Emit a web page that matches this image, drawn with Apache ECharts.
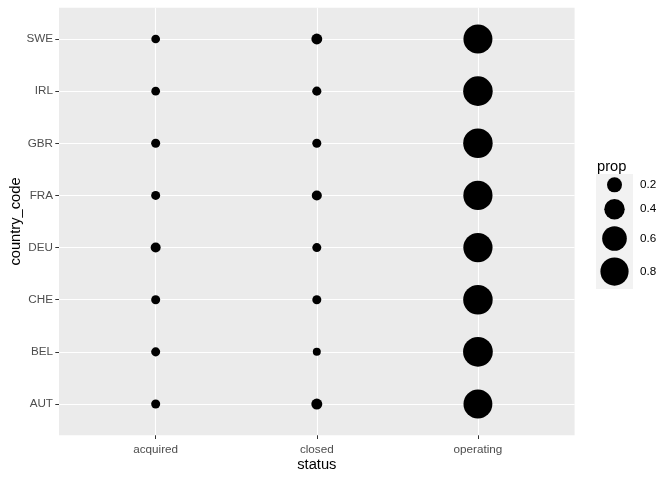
<!DOCTYPE html>
<html>
<head>
<meta charset="utf-8">
<script src="https://cdn.jsdelivr.net/npm/echarts@6/dist/echarts.min.js"></script>
<style>html,body{margin:0;padding:0;background:#fff}#c{width:672px;height:480px}</style>
</head>
<body>
<div id="c"></div>
<script>
const countries = ['AUT','BEL','CHE','DEU','FRA','GBR','IRL','SWE'];
const statuses = ['acquired','closed','operating'];
const acquired  = [0.060, 0.060, 0.060, 0.077, 0.060, 0.060, 0.055, 0.055];
const closed    = [0.097, 0.044, 0.060, 0.060, 0.078, 0.060, 0.062, 0.095];
const operating = [0.843, 0.896, 0.880, 0.863, 0.862, 0.880, 0.883, 0.850];
const legendBreaks = [0.2, 0.4, 0.6, 0.8];

const FONT = '"Liberation Sans", Arial, sans-serif';
const sizeOf = p => 29.5 * Math.sqrt(p) + 1.8;

const statusValues = [acquired, closed, operating];
const points = [];
statusValues.forEach((arr, si) => {
  arr.forEach((v, ci) => points.push([si, ci, v]));
});

// legend key layout (key height grows with symbol size, as in ggplot)
const keyH = legendBreaks.map(b => sizeOf(b) + 6.7);
let acc = 0;
const keyCenters = keyH.map(h => { const c = acc + h / 2; acc += h; return c; });
const keyTotal = acc;
const legendData = legendBreaks.map((b, i) => ({
  value: [0.5, keyCenters[i], b],
  label: { distance: 25.5 - sizeOf(b) / 2 }
}));

const chart = echarts.init(document.getElementById('c'));
chart.setOption({
  animation: false,
  textStyle: { fontFamily: FONT },
  title: {
    text: 'prop', left: 592, top: 154,
    textStyle: { fontFamily: FONT, fontSize: 14.7, fontWeight: 'normal', color: '#000' }
  },
  grid: [
    { left: 59, right: 97.4, top: 7.7, bottom: 44.7, show: true, backgroundColor: '#EBEBEB', borderWidth: 0, containLabel: false, outerBoundsMode: 'none' },
    { left: 596, top: 174, width: 37, height: 115, show: true, backgroundColor: '#F2F2F2', borderWidth: 0, containLabel: false, outerBoundsMode: 'none' }
  ],
  xAxis: [
    {
      type: 'value', gridIndex: 0, min: -0.6, max: 2.6,
      name: 'status', nameLocation: 'middle', nameGap: 22, nameMoveOverlap: false,
      nameTextStyle: { fontFamily: FONT, fontSize: 14.7, color: '#000' },
      axisLine: { show: true, onZero: false, lineStyle: { color: 'rgba(0,0,0,0)', width: 0 } },
      axisTick: { show: true, length: 3.7, lineStyle: { color: '#333333', width: 1 }, customValues: [0, 1, 2] },
      axisLabel: { customValues: [0, 1, 2], formatter: v => statuses[Math.round(v)] || '', color: '#4D4D4D', fontSize: 11.7, margin: 8, fontFamily: FONT },
      splitLine: { show: true, lineStyle: { color: '#FFFFFF', width: 1.1 } }
    },
    { type: 'value', gridIndex: 1, min: 0, max: 1, show: false }
  ],
  yAxis: [
    {
      type: 'value', gridIndex: 0, min: -0.6, max: 7.6,
      name: 'country_code', nameLocation: 'middle', nameGap: 36, nameRotate: 90, nameMoveOverlap: false,
      nameTextStyle: { fontFamily: FONT, fontSize: 14.7, color: '#000' },
      axisLine: { show: true, onZero: false, lineStyle: { color: 'rgba(0,0,0,0)', width: 0 } },
      axisTick: { show: true, length: 3.7, lineStyle: { color: '#333333', width: 1 }, customValues: [0,1,2,3,4,5,6,7] },
      axisLabel: { customValues: [0,1,2,3,4,5,6,7], formatter: v => countries[Math.round(v)] || '', color: '#4D4D4D', fontSize: 11.7, margin: 6, fontFamily: FONT },
      splitLine: { show: true, lineStyle: { color: '#FFFFFF', width: 1.1 } }
    },
    { type: 'value', gridIndex: 1, min: 0, max: keyTotal, inverse: true, show: false }
  ],
  series: [
    {
      type: 'scatter', xAxisIndex: 0, yAxisIndex: 0,
      data: points,
      symbol: 'circle',
      symbolSize: d => sizeOf(d[2]),
      itemStyle: { color: '#000000', opacity: 1 },
      clip: false
    },
    {
      type: 'scatter', xAxisIndex: 1, yAxisIndex: 1,
      data: legendData,
      symbol: 'circle',
      symbolSize: d => sizeOf(d[2]),
      itemStyle: { color: '#000000', opacity: 1 },
      clip: false,
      label: {
        show: true, position: 'right', formatter: p => p.value[2].toFixed(1),
        color: '#000', fontSize: 11.7, fontFamily: FONT
      }
    }
  ]
});
</script>
</body>
</html>
